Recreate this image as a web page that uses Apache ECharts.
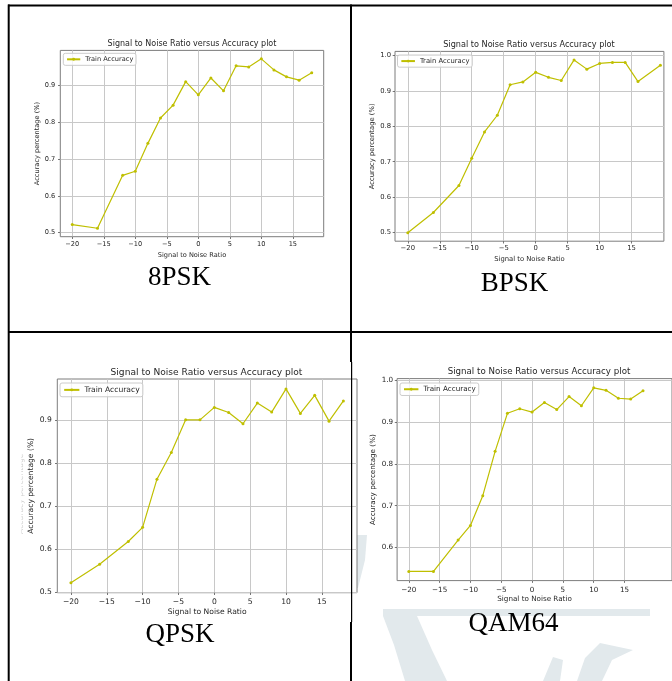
<!DOCTYPE html>
<html>
<head>
<meta charset="utf-8">
<script src="https://cdn.jsdelivr.net/npm/echarts@6/dist/echarts.min.js"></script>
<style>
  html, body { margin: 0; padding: 0; background: #fff; }
  #chart { width: 672px; height: 681px; }
</style>
</head>
<body>
<div id="chart"></div>
<script>
// SNR sweep (dB) and measured training accuracy per modulation
const snr = [-20, -16, -12, -10, -8, -6, -4, -2, 0, 2, 4, 6, 8, 10, 12, 14, 16, 18];
const snrBpsk = [-20, -16, -12, -10, -8, -6, -4, -2, 0, 2, 4, 6, 8, 10, 12, 14, 16, 19.5];

const acc8psk = [0.522, 0.512, 0.656, 0.667, 0.743, 0.812, 0.847, 0.911, 0.875, 0.921, 0.886, 0.954, 0.951, 0.973, 0.943, 0.924, 0.915, 0.935];
const accBpsk = [0.500, 0.557, 0.633, 0.710, 0.784, 0.831, 0.917, 0.925, 0.952, 0.938, 0.929, 0.987, 0.961, 0.977, 0.980, 0.980, 0.926, 0.972];
const accQpsk = [0.522, 0.565, 0.618, 0.651, 0.763, 0.825, 0.901, 0.901, 0.930, 0.918, 0.892, 0.940, 0.919, 0.973, 0.916, 0.958, 0.898, 0.945];
const accQam64 = [0.543, 0.543, 0.618, 0.653, 0.724, 0.830, 0.921, 0.932, 0.924, 0.947, 0.930, 0.961, 0.939, 0.982, 0.976, 0.957, 0.955, 0.975];

const captions = ['8PSK', 'BPSK', 'QPSK', 'QAM64'];
const plotTitle = 'Signal to Noise Ratio versus Accuracy plot';
const xName = 'Signal to Noise Ratio';
const yName = 'Accuracy percentage (%)';
const seriesName = 'Train Accuracy';

const xTicks = [-20, -15, -10, -5, 0, 5, 10, 15];
const yTicksLow = [0.5, 0.6, 0.7, 0.8, 0.9];
const yTicksFull = [0.5, 0.6, 0.7, 0.8, 0.9, 1.0];
const yTicksHigh = [0.6, 0.7, 0.8, 0.9, 1.0];

const LINE_COLOR = '#bfbf00';
const MPL_FONT = '"DejaVu Sans", sans-serif';
const SERIF = '"Liberation Serif", "Times New Roman", serif';

// One panel per table cell
const panels = [
  { x: snr, y: acc8psk, yTicks: yTicksLow,
    grid: { left: 60.3, top: 50.4, width: 263.4, height: 186.3 },
    xRange: [-21.9, 19.9], yRange: [0.489, 0.996],
    fs: 6.6, titleFs: 8.0, title: [192, 44],
    legend: [63.3, 53.3], xMargin: 4, yMargin: 5, xGap: 14.6, yGap: 18.6,
    caption: [179.5, 278] },
  { x: snrBpsk, y: accBpsk, yTicks: yTicksFull,
    grid: { left: 395, top: 51.4, width: 268.9, height: 189.8 },
    xRange: [-22, 20.05], yRange: [0.476, 1.011],
    fs: 6.8, titleFs: 8.15, title: [529, 45],
    legend: [397.5, 55], xMargin: 4, yMargin: 4, xGap: 14.4, yGap: 18.9,
    caption: [514.5, 284] },
  { x: snr, y: accQpsk, yTicks: yTicksLow,
    grid: { left: 57.3, top: 379, width: 299.7, height: 213.7 },
    xRange: [-21.9, 19.9], yRange: [0.499, 0.996],
    fs: 7.6, titleFs: 9.1, title: [206.5, 372.3],
    legend: [60, 383], xMargin: 5.8, yMargin: 5.5, xGap: 15.4, yGap: 22.5,
    caption: [180, 635] },
  { x: snr, y: accQam64, yTicks: yTicksHigh,
    grid: { left: 397.1, top: 378.6, width: 302.4, height: 202 },
    xRange: [-21.9, 22.7], yRange: [0.521, 1.004],
    fs: 7.2, titleFs: 8.67, title: [539, 371.7],
    legend: [400, 383], xMargin: 5.8, yMargin: 4, xGap: 14.7, yGap: 20.2,
    caption: [513.5, 624] }
];

const minus = v => String(v).replace('-', '\u2212');

const grids = [], xAxes = [], yAxes = [], series = [], legends = [], texts = [];

panels.forEach((p, i) => {
  grids.push(Object.assign({
    show: true, borderColor: '#7d7d7d', borderWidth: 1, backgroundColor: '#fff',
    containLabel: false
  }, p.grid));

  xAxes.push({
    type: 'value', gridIndex: i, min: p.xRange[0], max: p.xRange[1],
    name: xName, nameLocation: 'middle', nameGap: p.xGap,
    nameTextStyle: { fontFamily: MPL_FONT, fontSize: p.fs, color: '#262626' },
    axisLine: { show: false, onZero: false },
    axisTick: { show: true, length: 2.3, customValues: xTicks, lineStyle: { color: '#555', width: 0.8 } },
    axisLabel: { customValues: xTicks, margin: p.xMargin, formatter: minus,
      fontFamily: MPL_FONT, fontSize: p.fs, color: '#262626' },
    splitLine: { show: true, lineStyle: { color: '#c8c8c8', width: 1 } }
  });

  yAxes.push({
    type: 'value', gridIndex: i, min: p.yRange[0], max: p.yRange[1],
    name: yName, nameLocation: 'middle', nameGap: p.yGap,
    nameTextStyle: { fontFamily: MPL_FONT, fontSize: p.fs, color: '#262626' },
    axisLine: { show: false, onZero: false },
    axisTick: { show: true, length: 2.3, customValues: p.yTicks, lineStyle: { color: '#555', width: 0.8 } },
    axisLabel: { customValues: p.yTicks, margin: p.yMargin, formatter: v => v.toFixed(1),
      fontFamily: MPL_FONT, fontSize: p.fs, color: '#262626' },
    splitLine: { show: true, lineStyle: { color: '#c8c8c8', width: 1 } }
  });

  series.push({
    name: seriesName, type: 'line', xAxisIndex: i, yAxisIndex: i,
    data: p.x.map((v, k) => [v, p.y[k]]),
    symbol: 'circle', symbolSize: 3, showSymbol: true,
    lineStyle: { color: LINE_COLOR, width: 1.2 },
    itemStyle: { color: LINE_COLOR },
    animation: false, silent: true
  });

  const pad = p.fs * 0.38;
  legends.push({
    data: [seriesName], left: p.legend[0], top: p.legend[1],
    orient: 'vertical', itemWidth: p.fs * 2, itemHeight: 3.6,
    padding: [pad, pad * 1.1, pad, pad * 1.1],
    backgroundColor: 'rgba(255,255,255,0.8)', borderColor: '#cccccc', borderWidth: 1, borderRadius: 2,
    textStyle: { fontFamily: MPL_FONT, fontSize: p.fs, color: '#262626', padding: [0, 0, 0, 0] },
    selectedMode: false
  });

  texts.push({
    type: 'text', x: p.title[0], y: p.title[1], z: 10,
    style: { text: plotTitle, font: p.titleFs + 'px ' + MPL_FONT, fill: '#262626',
      align: 'center', verticalAlign: 'middle', textAlign: 'center', textVerticalAlign: 'middle' }
  });
  texts.push({
    type: 'text', x: p.caption[0], y: p.caption[1], z: 10,
    style: { text: captions[i], font: '27px ' + SERIF, fill: '#000',
      align: 'center', verticalAlign: 'middle', textAlign: 'center', textVerticalAlign: 'middle' }
  });
});

// Earlier, partly hidden copy of the QPSK y label behind the current one
texts.push({
  type: 'text', x: 21.5, y: 486, z: 4, rotation: Math.PI / 2,
  style: { text: yName, font: '7.6px ' + MPL_FONT, fill: '#d0d0d0',
    align: 'center', verticalAlign: 'middle', textAlign: 'center', textVerticalAlign: 'middle' }
});
texts.push({
  type: 'rect', z: 5, shape: { x: 10, y: 425, width: 11.3, height: 115 }, style: { fill: '#fff' }
});
texts.push({
  type: 'rect', z: 5, shape: { x: 10, y: 425, width: 15, height: 26 }, style: { fill: '#fff' }
});

// Faint background emblem in the lower right cell
const WM = '#e2e9ec';
const emblem = [
  [[383, 609], [650, 609], [650, 616], [383, 616]],
  [[383, 616], [417, 616], [432, 650], [447, 681], [405, 681], [394, 645]],
  [[352, 535], [367, 535], [365, 560], [358, 588], [352, 588]],
  [[600, 643], [633, 650], [612, 660], [602, 681], [577, 681], [585, 658]],
  [[553, 657], [563, 660], [560, 681], [543, 681]]
].map(pts => ({ type: 'polygon', z: -5, shape: { points: pts }, style: { fill: WM } }));

// Table rules
const rules = [
  { x: 8, y: 4.5, width: 664, height: 2 },
  { x: 7.7, y: 4.5, width: 2, height: 677 },
  { x: 350, y: 4.5, width: 2, height: 357.5 },
  { x: 351, y: 362, width: 1.2, height: 260 },
  { x: 350, y: 622, width: 2, height: 59 },
  { x: 8, y: 331, width: 664, height: 2 }
].map(r => ({ type: 'rect', z: 20, shape: r, style: { fill: '#000' } }));

const chart = echarts.init(document.getElementById('chart'), null, { renderer: 'canvas' });
chart.setOption({
  animation: false,
  backgroundColor: '#fff',
  grid: grids,
  xAxis: xAxes,
  yAxis: yAxes,
  legend: legends,
  series: series,
  graphic: { elements: emblem.concat(texts, rules) }
});
</script>
</body>
</html>
